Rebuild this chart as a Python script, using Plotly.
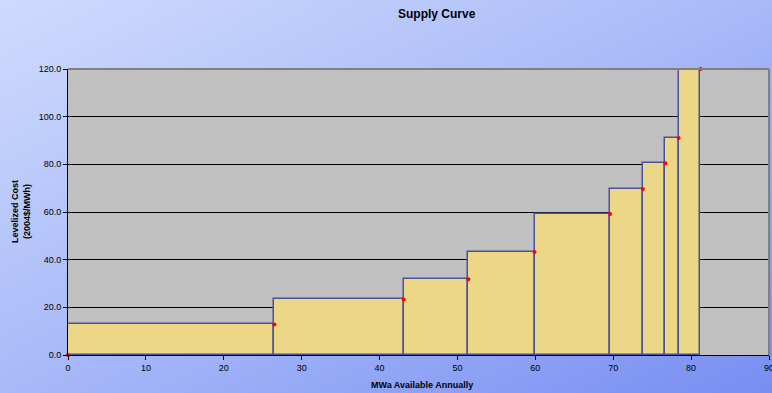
import base64
import plotly.graph_objects as go

# Resource supply steps: capacity of each block (MWa) and its levelized cost
capacity_mwa = [26.5, 16.6, 8.3, 8.5, 9.7, 4.2, 2.9, 1.7, 2.8]
cost_per_mwh = [12.8, 23.3, 31.8, 43.2, 59.2, 69.6, 80.5, 91.0, 120.0]

x_ticks = [0, 10, 20, 30, 40, 50, 60, 70, 80, 90]
y_ticks = [0.0, 20.0, 40.0, 60.0, 80.0, 100.0, 120.0]

# cumulative block edges
edges = [0.0]
for c in capacity_mwa:
    edges.append(edges[-1] + c)
mids = [(edges[i] + edges[i + 1]) / 2 for i in range(len(capacity_mwa))]

FONT = "Liberation Sans, Arial, sans-serif"

# diagonal blue gradient for the page background
svg = (
    '<svg xmlns="http://www.w3.org/2000/svg" width="772" height="393">'
    '<defs><linearGradient id="g" x1="0" y1="0" x2="1" y2="1">'
    '<stop offset="0" stop-color="#cfdbfd"/>'
    '<stop offset="0.5" stop-color="#a8b9f8"/>'
    '<stop offset="1" stop-color="#788ef2"/>'
    '</linearGradient></defs>'
    '<rect width="772" height="393" fill="url(#g)"/></svg>'
)
bg_uri = "data:image/svg+xml;base64," + base64.b64encode(svg.encode()).decode()

fig = go.Figure()

fig.add_trace(go.Bar(
    x=mids,
    y=cost_per_mwh,
    width=capacity_mwa,
    base=0,
    marker=dict(color="#ebd785", line=dict(color="#4c4f9c", width=1.5)),
    hoverinfo="skip",
    showlegend=False,
))

# supply points at the end of every block
fig.add_trace(go.Scatter(
    x=edges,
    y=[0.0] + cost_per_mwh,
    mode="markers",
    marker=dict(color="#ff0000", size=4),
    cliponaxis=False,
    showlegend=False,
))

fig.update_layout(
    width=772,
    height=393,
    margin=dict(l=68, r=3, t=69, b=38),
    paper_bgcolor="#b4c2f9",
    plot_bgcolor="#c0c0c0",
    bargap=0,
    font=dict(family=FONT, size=9, color="#000000"),
    images=[dict(
        source=bg_uri, xref="paper", yref="paper", x=-68 / 701, y=1 + 69 / 286,
        sizex=772 / 701, sizey=393 / 286, sizing="stretch", xanchor="left",
        yanchor="top", layer="below",
    )],
    xaxis=dict(
        range=[0, 90], tickvals=x_ticks, ticktext=[str(v) for v in x_ticks],
        showgrid=False, zeroline=False, showline=True, linecolor="#000000",
        linewidth=1, ticks="outside", ticklen=4, tickcolor="#000000",
        tickfont=dict(size=9, family=FONT), ticklabeloverflow="allow",
        automargin=False,
    ),
    yaxis=dict(
        range=[0, 120], tickvals=y_ticks, ticktext=[f"{v:.1f}" for v in y_ticks],
        showgrid=True, gridcolor="#000000", gridwidth=1, zeroline=False,
        showline=True, linecolor="#000000", linewidth=1, ticks="outside",
        ticklen=4, tickcolor="#000000", tickfont=dict(size=9, family=FONT),
        automargin=False,
    ),
    shapes=[
        # grey plot area fill under the gridlines
        dict(type="rect", xref="x domain", yref="y domain", x0=0, x1=1, y0=0, y1=1,
             fillcolor="#c0c0c0", line=dict(width=0), layer="below"),
        dict(type="line", xref="paper", yref="paper", x0=0, x1=1, y0=1, y1=1,
             line=dict(color="#808080", width=2), layer="above"),
        dict(type="line", xref="paper", yref="paper", x0=1, x1=1, y0=0, y1=1,
             line=dict(color="#808080", width=2), layer="above"),
    ],
    annotations=[
        dict(text="<b>Supply Curve</b>", xref="paper", yref="paper",
             x=(437 - 68) / 701, y=1 + (69 - 14) / 286, showarrow=False,
             font=dict(size=12, family=FONT), xanchor="center", yanchor="middle"),
        dict(text="<b>MWa Available Annually</b>", xref="paper", yref="paper",
             x=(422 - 68) / 701, y=-(385 - 355) / 286, showarrow=False,
             font=dict(size=9, family=FONT), xanchor="center", yanchor="middle"),
        dict(text="<b>Levelized Cost<br>(2004$/MWh)</b>", xref="paper", yref="paper",
             x=-(68 - 21) / 701, y=(355 - 212) / 286, showarrow=False,
             textangle=-90, font=dict(size=9, family=FONT),
             xanchor="center", yanchor="middle"),
    ],
)

fig.write_html("out.html")
